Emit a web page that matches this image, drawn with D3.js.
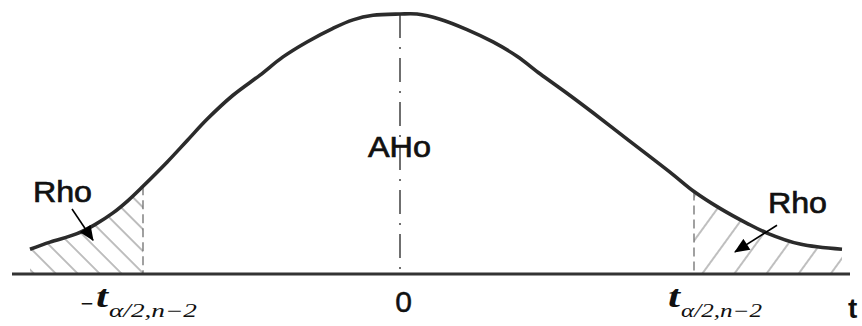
<!DOCTYPE html>
<html>
<head>
<meta charset="utf-8">
<script src="https://cdn.jsdelivr.net/npm/d3@7"></script>
<style>
  html, body { margin: 0; padding: 0; background: #fff; }
  svg { display: block; }
</style>
</head>
<body>
<svg id="chart" width="862" height="326"></svg>
<script>
// ---- data ----
const tValues = [-3.70, -3.50, -3.23, -3.05, -2.87, -2.72, -2.57, -2.33, -2.13, -1.93, -1.67, -1.40, -1.17, -0.93, -0.67, -0.47, -0.27, 0.00,
                 0.17, 0.40, 0.67, 0.93, 1.17, 1.40, 1.67, 1.93, 2.20, 2.47, 2.73, 2.94, 3.20, 3.47, 3.67, 4.00, 4.42];
const density = [0.038, 0.049, 0.062, 0.076, 0.094, 0.113, 0.135, 0.172, 0.205, 0.238, 0.275, 0.306, 0.334, 0.357, 0.378, 0.391, 0.398, 0.400,
                 0.400, 0.392, 0.376, 0.357, 0.335, 0.308, 0.278, 0.248, 0.216, 0.184, 0.153, 0.127, 0.101, 0.078, 0.063, 0.046, 0.038];
const criticalLeft = -2.57;
const criticalRight = 2.94;
const centerValue = 0;
const regionLabels = ["Rho", "AHo", "Rho"];
const tickLabelMinus = "−";
const tickLabelMain = "t";
const tickLabelSub = "α/2,n−2";
const centerTick = "0";
const axisTitle = "t";

// ---- layout ----
const svg = d3.select("#chart");
const x = d3.scaleLinear().domain([-3.9, 4.5]).range([10, 850]);
const y = d3.scaleLinear().domain([0, 0.4]).range([274, 14]);
const pts = tValues.map((t, i) => ({t, d: density[i]}));

const defs = svg.append("defs");
function hatch(id, angle, spacing) {
  const p = defs.append("pattern")
    .attr("id", id).attr("patternUnits", "userSpaceOnUse")
    .attr("width", spacing).attr("height", 20)
    .attr("patternTransform", `rotate(${angle})`);
  p.append("line").attr("x1", 1).attr("y1", 0).attr("x2", 1).attr("y2", 20)
    .attr("stroke", "#8a8a8a").attr("stroke-width", 1.1);
}
hatch("hatchL", -45, 15.5);
hatch("hatchR", 36, 26);
defs.append("marker").attr("id", "arrow")
  .attr("markerUnits", "userSpaceOnUse")
  .attr("viewBox", "0 0 14 12").attr("refX", 13).attr("refY", 6)
  .attr("markerWidth", 16).attr("markerHeight", 13).attr("orient", "auto")
  .append("path").attr("d", "M0,0 L14,6 L0,12 Z").attr("fill", "#000");

const curve = d3.curveCatmullRom.alpha(0.5);
const area = d3.area().x(p => x(p.t)).y0(y(0)).y1(p => y(p.d)).curve(curve);
svg.append("path").datum(pts.filter(p => p.t <= criticalLeft))
  .attr("d", area).attr("fill", "url(#hatchL)");
svg.append("path").datum(pts.filter(p => p.t >= criticalRight))
  .attr("d", area).attr("fill", "url(#hatchR)");

// critical dashed lines
[criticalLeft, criticalRight].forEach(c => {
  const d = density[tValues.indexOf(c)];
  svg.append("line")
    .attr("x1", x(c)).attr("x2", x(c)).attr("y1", y(d)).attr("y2", y(0))
    .attr("stroke", "#6f6f6f").attr("stroke-width", 1.3)
    .attr("stroke-dasharray", "9,5");
});

// center dash-dot line
svg.append("line")
  .attr("x1", x(centerValue)).attr("x2", x(centerValue))
  .attr("y1", y(d3.max(density))).attr("y2", y(0))
  .attr("stroke", "#333").attr("stroke-width", 1.4)
  .attr("stroke-dasharray", "24,9,2,9");

// baseline
svg.append("line")
  .attr("x1", 12).attr("x2", 850).attr("y1", y(0)).attr("y2", y(0))
  .attr("stroke", "#333").attr("stroke-width", 3);

// curve
const line = d3.line().x(p => x(p.t)).y(p => y(p.d)).curve(curve);
svg.append("path").datum(pts).attr("d", line)
  .attr("fill", "none").attr("stroke", "#2b2b2b").attr("stroke-width", 3.6);

// region labels and arrows (anchored in data units)
const annot = [
  {label: regionLabels[0], t: -3.67, d: 0.111, len: 59, from: [-3.28, 0.100], to: [-3.07, 0.052]},
  {label: regionLabels[1], t: -0.32, d: 0.180, len: 63},
  {label: regionLabels[2], t: 3.68, d: 0.094, len: 59, from: [3.77, 0.075], to: [3.35, 0.034]}
];
annot.forEach(a => {
  svg.append("text").attr("x", x(a.t)).attr("y", y(a.d))
    .attr("font-family", "Liberation Sans, Arial, sans-serif")
    .attr("font-size", 30).attr("fill", "#111")
    .attr("stroke", "#111").attr("stroke-width", 0.7)
    .attr("textLength", a.len).attr("lengthAdjust", "spacingAndGlyphs")
    .text(a.label);
  if (a.from) {
    svg.append("line")
      .attr("x1", x(a.from[0])).attr("y1", y(a.from[1]))
      .attr("x2", x(a.to[0])).attr("y2", y(a.to[1]))
      .attr("stroke", "#000").attr("stroke-width", 1.6)
      .attr("marker-end", "url(#arrow)");
  }
});

// tick labels
const serif = "Liberation Serif, Times New Roman, serif";
function critLabel(c, neg, startOff, subLen) {
  let x0 = x(c) + startOff;
  if (neg) {
    svg.append("text").attr("x", x0 - 2).attr("y", 310)
      .attr("font-family", "DejaVu Sans, sans-serif").attr("font-size", 20).attr("fill", "#111")
      .attr("textLength", 14).attr("lengthAdjust", "spacingAndGlyphs")
      .text(tickLabelMinus);
    x0 += 14;
  }
  svg.append("text").attr("x", x0).attr("y", 307)
    .attr("font-family", serif).attr("font-size", 31).attr("fill", "#111")
    .attr("font-style", "italic").attr("font-weight", "bold")
    .attr("textLength", 12).attr("lengthAdjust", "spacingAndGlyphs")
    .text(tickLabelMain);
  svg.append("text").attr("x", x0 + 13).attr("y", 317)
    .attr("font-family", serif).attr("font-size", 18).attr("font-style", "italic").attr("fill", "#111")
    .attr("textLength", subLen).attr("lengthAdjust", "spacingAndGlyphs")
    .text(tickLabelSub);
}
critLabel(criticalLeft, true, -61, 88);
critLabel(criticalRight, false, -26, 81);

svg.append("text").attr("x", x(centerValue) + 3.5).attr("y", 312)
  .attr("text-anchor", "middle")
  .attr("font-family", "Liberation Sans, Arial, sans-serif")
  .attr("font-size", 30).attr("fill", "#111")
  .attr("stroke", "#111").attr("stroke-width", 0.5).text(centerTick);

svg.append("text").attr("x", 848).attr("y", 318)
  .attr("font-family", "Liberation Sans, Arial, sans-serif")
  .attr("font-size", 28).attr("font-weight", "bold").attr("fill", "#111").text(axisTitle);
</script>
</body>
</html>
